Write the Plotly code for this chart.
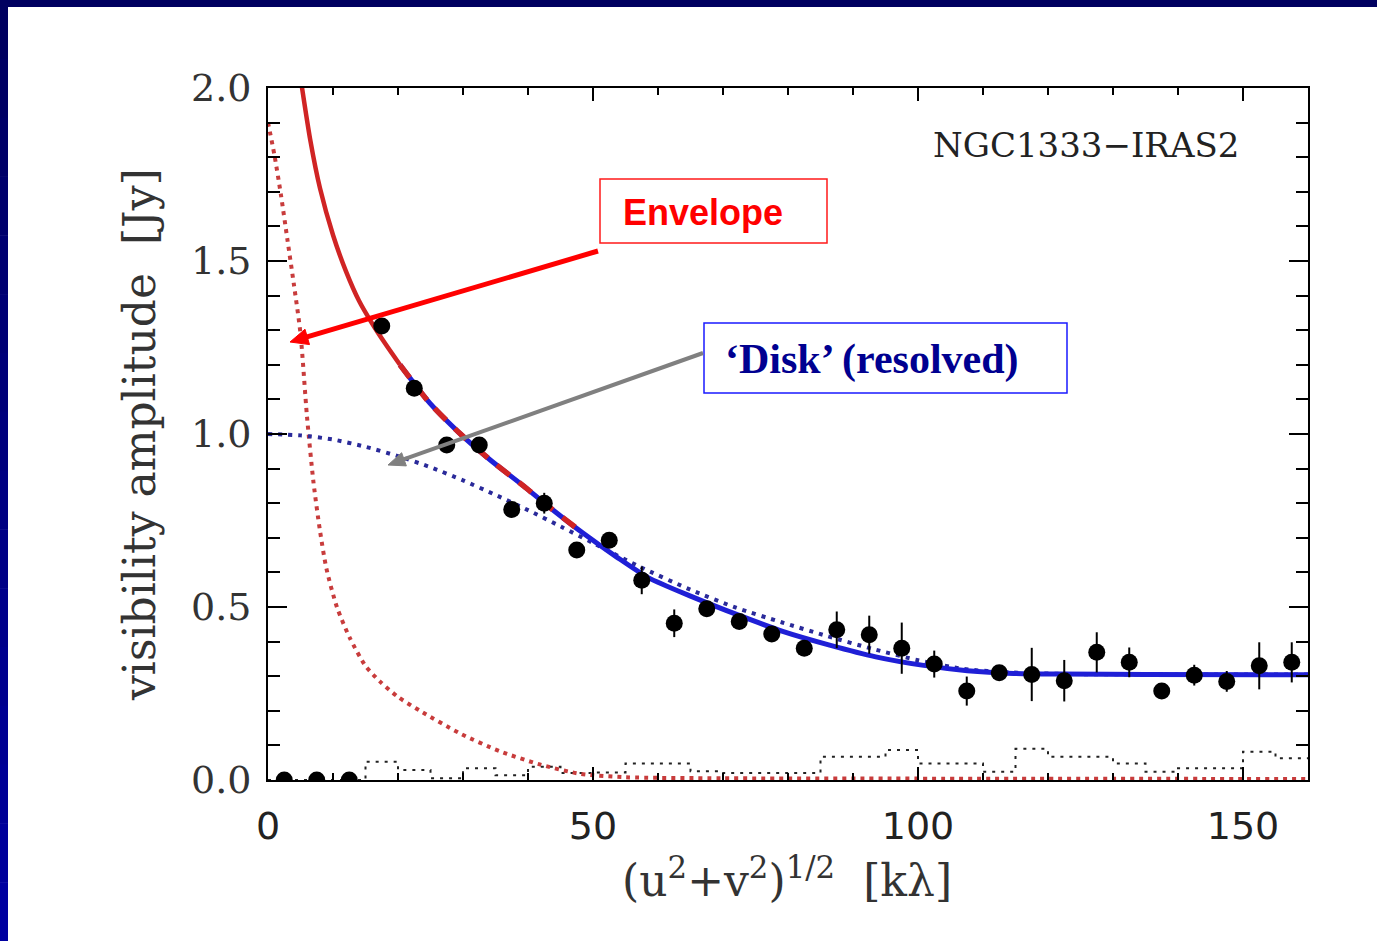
import math
import plotly.graph_objects as go

# ---------------- data ----------------
uv_dist = [2.5, 7.5, 12.5, 17.5, 22.5, 27.5, 32.5, 37.5, 42.5, 47.5, 52.5, 57.5,
           62.5, 67.5, 72.5, 77.5, 82.5, 87.5, 92.5, 97.5, 102.5, 107.5, 112.5,
           117.5, 122.5, 127.5, 132.5, 137.5, 142.5, 147.5, 152.5, 157.5]
vis_amp = [0.0, 0.0, 0.0, 1.312, 1.132, 0.968, 0.968, 0.782, 0.800, 0.665, 0.693, 0.577,
           0.453, 0.495, 0.458, 0.422, 0.381, 0.434, 0.420, 0.381, 0.335, 0.257, 0.310,
           0.305, 0.287, 0.369, 0.340, 0.257, 0.303, 0.285, 0.330, 0.340]
vis_err = [0.01, 0.01, 0.01, 0.015, 0.015, 0.015, 0.02, 0.015, 0.03, 0.015, 0.02, 0.04,
           0.04, 0.02, 0.02, 0.02, 0.02, 0.053, 0.055, 0.074, 0.039, 0.042, 0.02,
           0.077, 0.06, 0.058, 0.043, 0.02, 0.03, 0.03, 0.068, 0.058]

# total model (envelope + disk)
total_x = [5.0, 6.5, 8.0, 10.0, 12.0, 14.0, 16.0, 18.0, 20.3, 24.9, 29.5, 34.2, 39.3,
           43.4, 48.5, 53.6, 58.5, 65.2, 72.3, 79.3, 86.4, 93.5, 100.6, 107.6, 114.7,
           121.8, 135.0, 160.0]
total_y = [2.03, 1.85, 1.71, 1.575, 1.47, 1.385, 1.32, 1.262, 1.20, 1.089, 1.002, 0.925,
           0.850, 0.787, 0.713, 0.645, 0.585, 0.530, 0.477, 0.429, 0.390, 0.356, 0.332,
           0.316, 0.308, 0.306, 0.305, 0.304]

# disk-only model
disk_x = [0.0, 5.0, 10.0, 15.0, 20.0, 25.0, 30.0, 35.0, 40.0, 45.0, 50.0, 57.0, 65.0,
          72.0, 79.0, 86.0, 93.0, 100.0, 107.0, 114.0, 125.0, 140.0, 160.0]
disk_y = [1.0, 0.996, 0.984, 0.963, 0.936, 0.904, 0.866, 0.824, 0.780, 0.733, 0.685,
          0.618, 0.550, 0.498, 0.456, 0.416, 0.379, 0.346, 0.321, 0.311, 0.306, 0.305, 0.305]

# envelope-only model
env_x = [0.0, 1.0, 2.0, 3.0, 4.0, 5.0, 6.0, 7.0, 8.0, 9.0, 10.6, 12.6, 15.0, 17.2,
         20.0, 23.4, 29.5, 35.7, 41.8, 48.0, 55.0, 70.0, 100.0, 160.0]
env_y = [1.9, 1.805, 1.69, 1.56, 1.43, 1.29, 1.05, 0.86, 0.72, 0.61, 0.5, 0.41, 0.33,
         0.285, 0.24, 0.2, 0.135, 0.083, 0.045, 0.018, 0.008, 0.005, 0.004, 0.003]

# zero-signal expectation histogram (bin left edges, 5 kλ bins)
hist_edges = [0, 15, 20, 25, 30, 35, 40, 45, 50, 55, 60, 65, 70, 75, 80, 85, 90, 95, 100,
              105, 110, 115, 120, 125, 130, 135, 140, 145, 150, 155, 160]
hist_vals = [0.0, 0.053, 0.029, 0.005, 0.034, 0.014, 0.038, 0.02, 0.022, 0.048, 0.048,
             0.025, 0.02, 0.02, 0.02, 0.067, 0.067, 0.087, 0.048, 0.048, 0.024, 0.09,
             0.067, 0.067, 0.048, 0.024, 0.034, 0.034, 0.082, 0.063, 0.063]

RED = "#d02424"
BLUE = "#1f1fd6"

fig = go.Figure()

fig.add_trace(go.Scatter(x=hist_edges, y=hist_vals, mode="lines", line_shape="hv",
                         line=dict(color="#222222", width=2, dash="3px,6px"),
                         hoverinfo="skip", showlegend=False))

fig.add_trace(go.Scatter(x=env_x, y=env_y, mode="lines", line_shape="spline",
                         line=dict(color="#c83c3c", width=4, dash="4px,5px", smoothing=0.7),
                         showlegend=False))

fig.add_trace(go.Scatter(x=disk_x, y=disk_y, mode="lines", line_shape="spline",
                         line=dict(color="#2a2a9a", width=4, dash="4px,6px", smoothing=0.7),
                         showlegend=False))

bx = [x for x in total_x if x >= 20]
by = [y for x, y in zip(total_x, total_y) if x >= 20]
fig.add_trace(go.Scatter(x=bx, y=by, mode="lines", line_shape="spline",
                         line=dict(color=BLUE, width=5, smoothing=0.7), showlegend=False))
rx = [x for x in total_x if x <= 20.3]
ry = [y for x, y in zip(total_x, total_y) if x <= 20.3]
fig.add_trace(go.Scatter(x=rx, y=ry, mode="lines", line_shape="spline",
                         line=dict(color=RED, width=4.5, smoothing=0.7), showlegend=False))
dx = [x for x in total_x if 20 <= x <= 49]
dy = [y for x, y in zip(total_x, total_y) if 20 <= x <= 49]
fig.add_trace(go.Scatter(x=dx, y=dy, mode="lines", line_shape="spline",
                         line=dict(color=RED, width=5.5, dash="16px,12px", smoothing=0.7),
                         showlegend=False))

fig.add_trace(go.Scatter(x=uv_dist, y=vis_amp, mode="markers",
                         marker=dict(color="black", size=17),
                         error_y=dict(type="data", array=vis_err, color="black",
                                      thickness=2, width=0),
                         cliponaxis=True, showlegend=False))

# ---------------- layout ----------------
L, R, T, B = 268, 69, 88, 161
W, H = 1377, 941
pw, ph = W - L - R, H - T - B

def px(xp):
    return (xp - L) / pw

def py(yp):
    return (H - B - yp) / ph

def ax_x(xp):
    return (xp - L) / pw * 160

def ax_y(yp):
    return (H - B - yp) / ph * 2.0

shapes = []
shapes.append(dict(type="rect", xref="paper", yref="paper",
                   x0=px(0), x1=px(W), y0=py(7), y1=py(0),
                   fillcolor="#000060", line=dict(width=0), layer="above"))
nseg = 16
for i in range(nseg):
    y_top = H * i / nseg
    y_bot = H * (i + 1) / nseg
    f = i / (nseg - 1)
    b = int(0x60 + f * (0xa0 - 0x60))
    shapes.append(dict(type="rect", xref="paper", yref="paper",
                       x0=px(0), x1=px(8), y0=py(y_bot + 0.5), y1=py(y_top),
                       fillcolor=f"rgb(0,0,{b})", line=dict(width=0), layer="above"))

shapes.append(dict(type="rect", xref="x", yref="y",
                   x0=ax_x(600), x1=ax_x(827), y0=ax_y(243), y1=ax_y(179),
                   fillcolor="white", line=dict(color="#ff1a1a", width=1.5), layer="above"))
shapes.append(dict(type="rect", xref="x", yref="y",
                   x0=ax_x(704), x1=ax_x(1067), y0=ax_y(393), y1=ax_y(323),
                   fillcolor="white", line=dict(color="#1a1aff", width=1.5), layer="above"))


def arrow(tail, head, color, width, hlen, hwid):
    dxp, dyp = head[0] - tail[0], head[1] - tail[1]
    ln = math.hypot(dxp, dyp)
    ux, uy = dxp / ln, dyp / ln
    nx, ny = -uy, ux
    bxp, byp = head[0] - ux * hlen, head[1] - uy * hlen
    out = [dict(type="line", xref="x", yref="y",
                x0=ax_x(tail[0]), y0=ax_y(tail[1]),
                x1=ax_x(bxp + ux * 2), y1=ax_y(byp + uy * 2),
                line=dict(color=color, width=width), layer="above")]
    p1 = (bxp + nx * hwid, byp + ny * hwid)
    p2 = (bxp - nx * hwid, byp - ny * hwid)
    path = (f"M {ax_x(head[0])},{ax_y(head[1])} L {ax_x(p1[0])},{ax_y(p1[1])} "
            f"L {ax_x(p2[0])},{ax_y(p2[1])} Z")
    out.append(dict(type="path", xref="x", yref="y", path=path,
                    fillcolor=color, line=dict(color=color, width=1), layer="above"))
    return out

shapes += arrow((598, 251), (290, 342), "#ff0000", 5, 18, 8)
shapes += arrow((703, 353), (388, 465), "#808080", 4, 17, 7)

annotations = [
    dict(text="NGC1333\u2212IRAS2", xref="x", yref="y", x=ax_x(1086), y=ax_y(145),
         showarrow=False, font=dict(family="DejaVu Serif", size=34, color="#222222")),
    dict(text="<b>Envelope</b>", xref="x", yref="y", x=ax_x(703), y=ax_y(212),
         showarrow=False, font=dict(family="Liberation Sans", size=36, color="#ff0000")),
    dict(text="<b>\u2018Disk\u2019 (resolved)</b>", xref="x", yref="y", x=ax_x(872), y=ax_y(359),
         showarrow=False, font=dict(family="Liberation Serif", size=42, color="#000090")),
    dict(text="visibility amplitude  [Jy]", xref="paper", yref="paper",
         x=px(140), y=py(435), textangle=-90, showarrow=False,
         xanchor="center", yanchor="middle",
         font=dict(family="DejaVu Serif", size=44, color="#333333")),
    dict(text="(u<sup>2</sup>+v<sup>2</sup>)<sup>1/2</sup>  [k\u03bb]", xref="paper", yref="paper",
         x=px(787), y=py(877), showarrow=False, xanchor="center", yanchor="middle",
         font=dict(family="DejaVu Serif", size=44, color="#333333")),
]

fig.update_layout(
    width=W, height=H,
    margin=dict(l=L, r=R, t=T, b=B, pad=0),
    paper_bgcolor="white", plot_bgcolor="white",
    shapes=shapes, annotations=annotations,
    xaxis=dict(range=[0, 160], showgrid=False, zeroline=False,
               showline=True, linecolor="black", linewidth=2, mirror="allticks",
               ticks="inside", ticklen=13, tickwidth=2, tickcolor="black",
               tickmode="array", tickvals=[0, 50, 100, 150], ticktext=["0", "50", "100", "150"],
               minor=dict(ticks="inside", tickmode="array",
                          tickvals=[10, 20, 30, 40, 60, 70, 80, 90, 110, 120, 130, 140],
                          ticklen=7, tickwidth=2, tickcolor="black", showgrid=False),
               tickfont=dict(family="DejaVu Sans", size=38, color="#222222"),
               ticklabelstandoff=11),
    yaxis=dict(range=[0, 2.0], showgrid=False, zeroline=False,
               showline=True, linecolor="black", linewidth=2, mirror="allticks",
               ticks="inside", ticklen=19, tickwidth=2, tickcolor="black",
               tickmode="array", tickvals=[0, 0.5, 1.0, 1.5, 2.0],
               ticktext=["0.0", "0.5", "1.0", "1.5", "2.0"],
               minor=dict(ticks="inside", dtick=0.1, ticklen=12, tickwidth=2,
                          tickcolor="black", showgrid=False),
               tickfont=dict(family="DejaVu Serif", size=38, color="#333333"),
               ticklabelstandoff=7),
)

fig.write_html("out.html")
